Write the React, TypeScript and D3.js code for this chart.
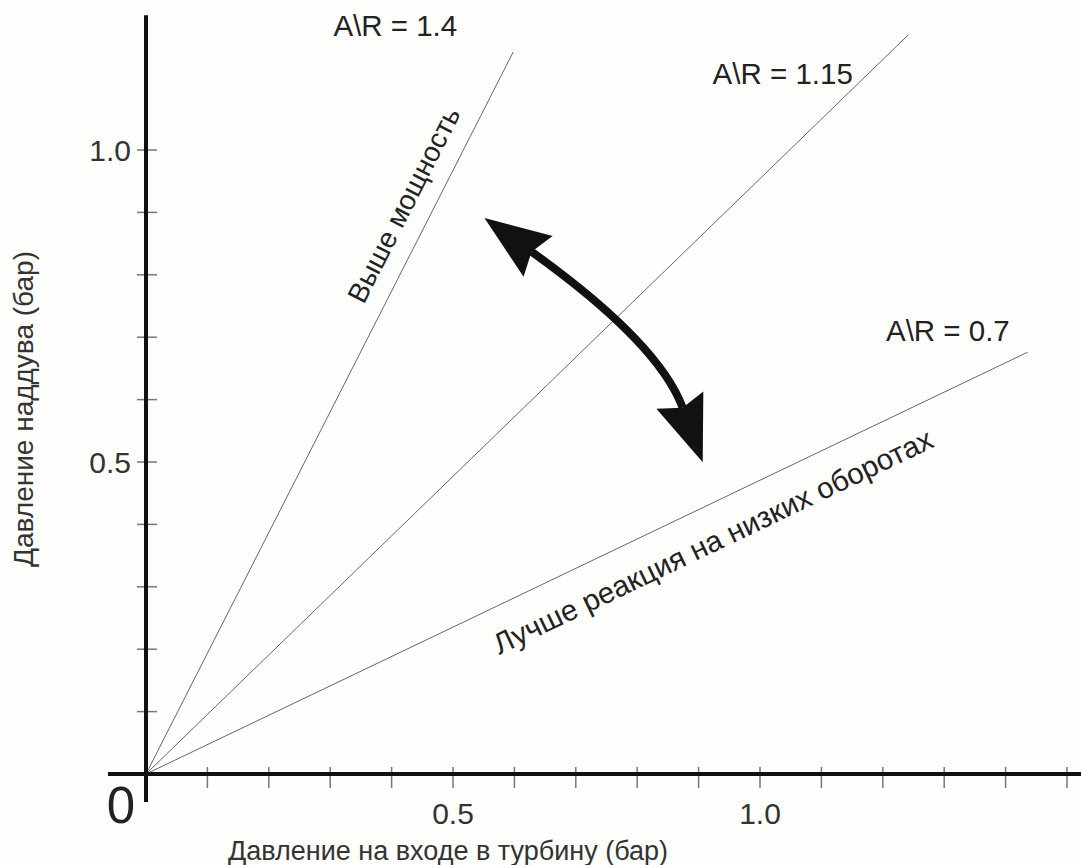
import React from "react";
import * as d3 from "d3";

const W = 1081;
const H = 865;

// Tick values
const xTickValues = [0.1, 0.2, 0.3, 0.4, 0.5, 0.6, 0.7, 0.8, 0.9, 1.0, 1.1, 1.2, 1.3, 1.4, 1.5];
const xTickLabels = ["0.5", "1.0"];
const xLabeledValues = [0.5, 1.0];
const yTickValues = [0.1, 0.2, 0.3, 0.4, 0.5, 0.6, 0.7, 0.8, 0.9, 1.0];
const yTickLabels = ["0.5", "1.0"];
const yLabeledValues = [0.5, 1.0];

// A/R lines (from origin to end point, in bar)
const arNames = ["A\\R = 1.4", "A\\R = 1.15", "A\\R = 0.7"];
const arEndX = [0.598, 1.241, 1.436];
const arEndY = [1.157, 1.184, 0.676];
// label anchors (data units)
const arLabelX = [0.406, 1.037, 1.306];
const arLabelY = [1.183, 1.106, 0.694];

// Side notes along lines
const noteTexts = ["Выше мощность", "Лучше реакция на низких оборотах"];
const noteLine = [0, 2];
const noteX = [0.42, 0.923];
const noteY = [0.912, 0.373];
const noteSize = [28, 29.5];

// Curved double arrow (data units)
const arrowStart = [0.628, 0.837];
const arrowCtrl = [0.835, 0.691];
const arrowEnd = [0.874, 0.587];

const xTitle = "Давление на входе в турбину (бар)";
const yTitle = "Давление наддува (бар)";

const FONT = "'Liberation Sans', Arial, Helvetica, sans-serif";

export default function App() {
  const x = d3.scaleLinear().domain([0, 1.5]).range([146, 1067]);
  const y = d3.scaleLinear().domain([0, 1]).range([774, 150]);

  const lineGen = d3.line<[number, number]>().x((d) => x(d[0])).y((d) => y(d[1]));

  // arrow geometry
  const p0 = [x(arrowStart[0]), y(arrowStart[1])];
  const pc = [x(arrowCtrl[0]), y(arrowCtrl[1])];
  const p2 = [x(arrowEnd[0]), y(arrowEnd[1])];
  const path = d3.path();
  path.moveTo(p0[0], p0[1]);
  path.quadraticCurveTo(pc[0], pc[1], p2[0], p2[1]);

  const head = (base: number[], from: number[]) => {
    const dx = base[0] - from[0];
    const dy = base[1] - from[1];
    const len = Math.hypot(dx, dy);
    const ux = dx / len;
    const uy = dy / len;
    const L = 66;
    const hw = 25;
    const notch = 8;
    const tip = [base[0] + ux * (L - notch), base[1] + uy * (L - notch)];
    const bx = base[0] - ux * notch;
    const by = base[1] - uy * notch;
    const c1 = [bx - uy * hw, by + ux * hw];
    const c2 = [bx + uy * hw, by - ux * hw];
    return `M${tip[0]},${tip[1]}L${c1[0]},${c1[1]}L${base[0]},${base[1]}L${c2[0]},${c2[1]}Z`;
  };

  const lineAngle = (i: number) => {
    const dx = x(arEndX[i]) - x(0);
    const dy = y(arEndY[i]) - y(0);
    return (Math.atan2(dy, dx) * 180) / Math.PI;
  };

  return (
    <svg
      width={W}
      height={H}
      style={{ position: "absolute", left: 0, top: 0, background: "#fff" }}
      fontFamily={FONT}
    >
      <rect x={0} y={0} width={W} height={H} fill="#fefefc" />

      {/* A/R lines */}
      {arNames.map((n, i) => (
        <path
          key={n}
          d={lineGen([
            [0, 0],
            [arEndX[i], arEndY[i]],
          ]) || ""}
          stroke="#666"
          strokeWidth={1}
          fill="none"
        />
      ))}

      {/* x ticks */}
      {xTickValues.map((v) => (
        <line key={"xt" + v} x1={x(v)} x2={x(v)} y1={767} y2={788} stroke="#777" strokeWidth={1.5} />
      ))}
      {/* y ticks */}
      {yTickValues.map((v) => (
        <line key={"yt" + v} x1={137} x2={157} y1={y(v)} y2={y(v)} stroke="#777" strokeWidth={1.5} />
      ))}

      {/* axes */}
      <line x1={x(-0.062)} x2={W} y1={y(0)} y2={y(0)} stroke="#111" strokeWidth={4} />
      <line x1={x(0)} x2={x(0)} y1={y(1.216)} y2={y(-0.045)} stroke="#111" strokeWidth={4} />

      {/* tick labels */}
      {xLabeledValues.map((v, i) => (
        <text key={"xl" + v} x={x(v)} y={824} textAnchor="middle" fontSize={30} fill="#333">
          {xTickLabels[i]}
        </text>
      ))}
      {yLabeledValues.map((v, i) => (
        <text key={"yl" + v} x={131} y={y(v) + 11} textAnchor="end" fontSize={30} fill="#333">
          {yTickLabels[i]}
        </text>
      ))}
      <text x={121} y={823} textAnchor="middle" fontSize={51} fill="#222">
        0
      </text>

      {/* axis titles */}
      <text x={448} y={860} textAnchor="middle" fontSize={27} fill="#333">
        {xTitle}
      </text>
      <text
        transform={`translate(33, 409) rotate(-90)`}
        textAnchor="middle"
        fontSize={28}
        fill="#333"
      >
        {yTitle}
      </text>

      {/* A/R labels */}
      {arNames.map((n, i) => (
        <text key={"al" + i} x={x(arLabelX[i])} y={y(arLabelY[i])} textAnchor="middle" fontSize={29.5} fill="#222">
          {n}
        </text>
      ))}

      {/* notes along lines */}
      {noteTexts.map((t, i) => (
        <text
          key={"nt" + i}
          transform={`translate(${x(noteX[i])}, ${y(noteY[i])}) rotate(${lineAngle(noteLine[i])})`}
          textAnchor="middle"
          dominantBaseline="central"
          fontSize={noteSize[i]}
          fill="#222"
        >
          {t}
        </text>
      ))}

      {/* curved double arrow */}
      <path d={path.toString()} stroke="#111" strokeWidth={8} fill="none" />
      <path d={head(p0, pc)} fill="#111" />
      <path d={head(p2, pc)} fill="#111" />
    </svg>
  );
}
